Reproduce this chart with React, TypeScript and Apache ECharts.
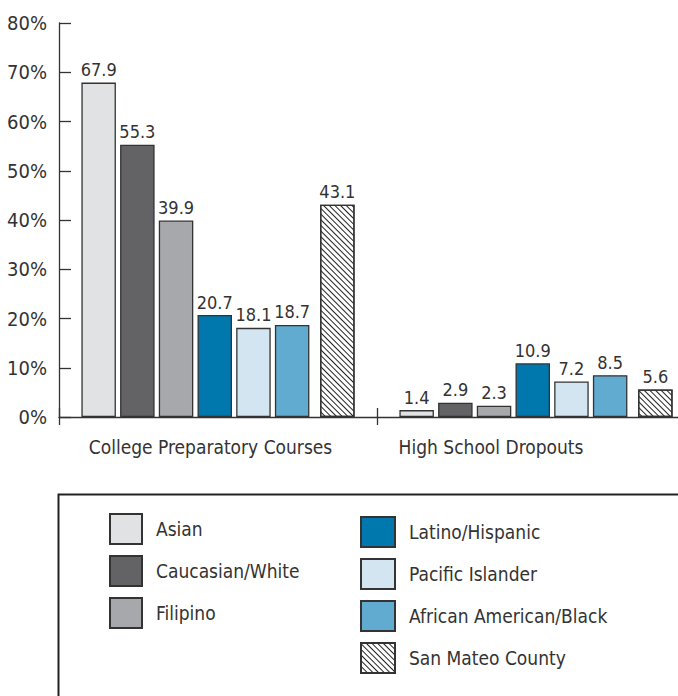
import React, { useEffect, useRef } from "react";
import * as echarts from "echarts";

const categories = ["College Preparatory Courses", "High School Dropouts"];
const groupNames = [
  "Asian",
  "Caucasian/White",
  "Filipino",
  "Latino/Hispanic",
  "Pacific Islander",
  "African American/Black",
  "San Mateo County",
];
const asian = [67.9, 1.4];
const caucasian = [55.3, 2.9];
const filipino = [39.9, 2.3];
const latino = [20.7, 10.9];
const pacific = [18.1, 7.2];
const african = [18.7, 8.5];
const sanMateo = [43.1, 5.6];
const yTicks = { min: 0, max: 80, interval: 10 };
const colors = ["#e1e2e3", "#636365", "#a7a8ab", "#0077ad", "#d4e5f2", "#62abd0", "#ffffff"];

const FONT = "'Liberation Sans Narrow', 'DejaVu Sans Condensed', 'Liberation Sans', sans-serif";

export default function App() {
  const ref = useRef<HTMLDivElement>(null);
  useEffect(() => {
    if (!ref.current) return;
    const chart = echarts.init(ref.current, null, { renderer: "svg" });
    const values = [asian, caucasian, filipino, latino, pacific, african];
    const barW = 34.5;
    const gap = "12.17%";
    const dataLabel = {
      show: true,
      position: "top",
      distance: 4,
      color: "#333",
      fontSize: 18,
      fontFamily: FONT,
      formatter: (p: any) => p.value.toFixed(1),
    };
    const series: any[] = values.map((v, i) => ({
      name: groupNames[i],
      type: "bar",
      data: v,
      barWidth: barW,
      barGap: gap,
      itemStyle: { color: colors[i], borderColor: "#333", borderWidth: 1.3 },
      label: dataLabel,
    }));
    series.push({
      name: "spacer",
      type: "bar",
      data: ["-", "-"],
      barWidth: 5.8,
      barGap: gap,
      silent: true,
      itemStyle: { color: "transparent" },
    });
    series.push({
      name: groupNames[6],
      type: "bar",
      data: sanMateo,
      barWidth: barW,
      barGap: gap,
      itemStyle: {
        color: "#ffffff",
        borderColor: "#333",
        borderWidth: 1.3,
        decal: {
          symbol: "rect",
          symbolSize: 1,
          dashArrayX: [1, 0],
          dashArrayY: [1, 3],
          rotation: Math.PI / 4,
          color: "#222",
          backgroundColor: "#ffffff",
        },
      },
      label: dataLabel,
    });

    const legendCommon = {
      orient: "vertical",
      icon: "rect",
      padding: 0,
      itemGap: 10,
      selectedMode: false,
      textStyle: {
        fontSize: 19,
        lineHeight: 30,
        color: "#333",
        fontFamily: FONT,
        padding: [0, 0, 0, 9],
      },
    };

    chart.setOption({
      animation: false,
      backgroundColor: "#ffffff",
      textStyle: { fontFamily: FONT },
      grid: { left: 59, top: 23, width: 636, height: 394, containLabel: false },
      xAxis: [
        {
          type: "category",
          data: categories,
          axisLine: { show: true, lineStyle: { color: "#333", width: 1.3 } },
          axisTick: { show: true, inside: false, length: 8, lineStyle: { color: "#333", width: 1.3 } },
          axisLabel: {
            margin: 20,
            formatter: (v: string) => (v === categories[0] ? `{a|${v}}` : `{b|${v}}`),
            rich: {
              a: { fontSize: 19, color: "#333", fontFamily: FONT, padding: [0, 15, 0, 0] },
              b: { fontSize: 19, color: "#333", fontFamily: FONT, padding: [0, 90, 0, 0] },
            },
          },
        },
        {
          type: "category",
          data: categories,
          position: "bottom",
          axisLine: { show: false },
          axisTick: { show: true, inside: true, length: 9, lineStyle: { color: "#333", width: 1.3 } },
          axisLabel: { show: false },
        },
      ],
      yAxis: {
        type: "value",
        min: yTicks.min,
        max: yTicks.max,
        interval: yTicks.interval,
        axisLine: { show: true, lineStyle: { color: "#333", width: 1.3 } },
        axisTick: { show: true, inside: true, length: 12, lineStyle: { color: "#333", width: 1.3 } },
        splitLine: { show: false },
        axisLabel: {
          formatter: "{value}%",
          fontSize: 20,
          color: "#333",
          fontFamily: FONT,
          margin: 12,
        },
      },
      legend: [
        {
          ...legendCommon,
          left: 109,
          top: 513,
          itemWidth: 32,
          itemHeight: 30,
          data: groupNames.slice(0, 3),
        },
        {
          ...legendCommon,
          left: 360,
          top: 516,
          itemWidth: 34,
          itemHeight: 30,
          data: groupNames.slice(3),
        },
      ],
      graphic: [
        {
          type: "rect",
          left: 56,
          top: 492,
          shape: { width: 700, height: 300 },
          style: { fill: "none", stroke: "#222", lineWidth: 2 },
          silent: true,
        },
      ],
      series,
    });
    return () => chart.dispose();
  }, []);
  return (
    <div
      style={{
        position: "fixed",
        left: 0,
        top: 0,
        width: 678,
        height: 696,
        overflow: "hidden",
        background: "#fff",
      }}
    >
      <div ref={ref} style={{ width: 740, height: 696 }} />
    </div>
  );
}
